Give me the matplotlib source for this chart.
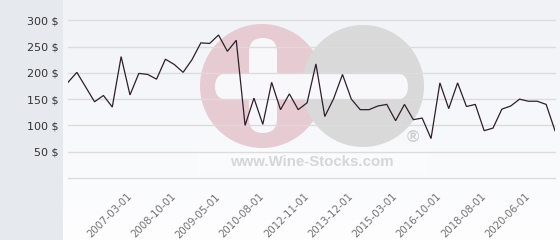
import matplotlib
matplotlib.use("Agg")
import matplotlib.pyplot as plt
import numpy as np
from matplotlib.patches import Circle, FancyBboxPatch, Rectangle

# ---- data ----
prices = [182, 201, 173, 145, 157, 135, 231, 158, 199, 197,
          188, 226, 216, 201, 225, 257, 256, 272, 241, 262,
          100, 152, 102, 182, 130, 160, 130, 143, 217, 117,
          151, 197, 150, 130, 130, 137, 140, 109, 140, 111,
          114, 75, 181, 132, 181, 136, 140, 90, 95, 131,
          137, 150, 146, 146, 140, 90]
tick_labels = ["2007-03-01", "2008-10-01", "2009-05-01", "2010-08-01",
               "2012-11-01", "2013-12-01", "2015-03-01", "2016-10-01",
               "2018-08-01", "2020-06-01"]
tick_first = 7
tick_every = 5
y_ticks = [0, 50, 100, 150, 200, 250, 300]

W, H = 560, 240
fig = plt.figure(figsize=(W / 100, H / 100), dpi=100)

# ---- background (pixel coordinates) ----
bg = fig.add_axes([0, 0, 1, 1], zorder=-2)
bg.set_xlim(0, W)
bg.set_ylim(H, 0)
bg.axis("off")
top = np.array([0xf0, 0xf2, 0xf6]) / 255
bot = np.array([0xfe, 0xfe, 0xff]) / 255
t = np.linspace(0, 1, 240)[:, None, None]
grad = top * (1 - t) + bot * t
grad = np.repeat(grad, 2, axis=1)
bg.imshow(grad, extent=(63, W, H, 0), aspect="auto", zorder=0)
bg.add_patch(Rectangle((0, 0), 63, H, facecolor="#e6eaee", edgecolor="none", zorder=1))

# watermark
bg.add_patch(Rectangle((197, 150), 231, 23, facecolor="#fafbfc", edgecolor="none", zorder=1.5))
bg.add_patch(Circle((262, 86), 62, facecolor="#e7cbd3", edgecolor="none", zorder=2))
bg.add_patch(Circle((363, 86), 61, facecolor="#d9d9da", edgecolor="none", zorder=3))
bg.add_patch(FancyBboxPatch((215, 73), 193, 27,
                            boxstyle="round,pad=0,rounding_size=13.5",
                            facecolor="#f8f8fa", edgecolor="none", zorder=4))
bg.add_patch(FancyBboxPatch((249, 38), 28, 95,
                            boxstyle="round,pad=0,rounding_size=14",
                            facecolor="#f8f8fa", edgecolor="none", zorder=4))
bg.text(312, 162, "www.Wine-Stocks.com", fontsize=10.8, fontweight="bold",
        family="Liberation Sans", color="#d6d6d6", ha="center", va="center", zorder=5)
bg.text(413, 138, "\u00ae", fontsize=12, fontweight="bold",
        family="Liberation Sans", color="#cdcdcd", ha="center", va="center", zorder=5)

# ---- main chart ----
left, right = 68 / W, 555 / W
y0px, y300px = 178.0, 20.3
ax = fig.add_axes([left, 1 - y0px / H, right - left, (y0px - y300px) / H])
ax.patch.set_visible(False)
x = np.arange(len(prices))
ax.plot(x, prices, color="#2e1f2b", lw=0.9, zorder=3, solid_joinstyle="miter")
ax.set_xlim(0, len(prices) - 1)
ax.set_ylim(0, 300)
for s in ax.spines.values():
    s.set_visible(False)

ax.set_yticks(y_ticks)
ax.set_yticklabels([f"{v} $" if v else "" for v in y_ticks])
ax.yaxis.grid(True, color="#dcdcdc", lw=1.0)
for gl in ax.get_ygridlines():
    gl.set_clip_on(False)
ax.set_axisbelow(True)
ax.tick_params(axis="y", length=0, pad=6.5, labelsize=8, labelcolor="#333333")

tpos = [tick_first + tick_every * i for i in range(len(tick_labels))]
ax.set_xticks(tpos)
ax.set_xticklabels(tick_labels)
ax.tick_params(axis="x", length=0, pad=12.3, labelsize=7.3, labelcolor="#707070")
for lb in ax.get_xticklabels():
    lb.set_rotation(45)
    lb.set_ha("right")
    lb.set_va("center")
    lb.set_rotation_mode("anchor")

fig.savefig("out.png", dpi=100)
